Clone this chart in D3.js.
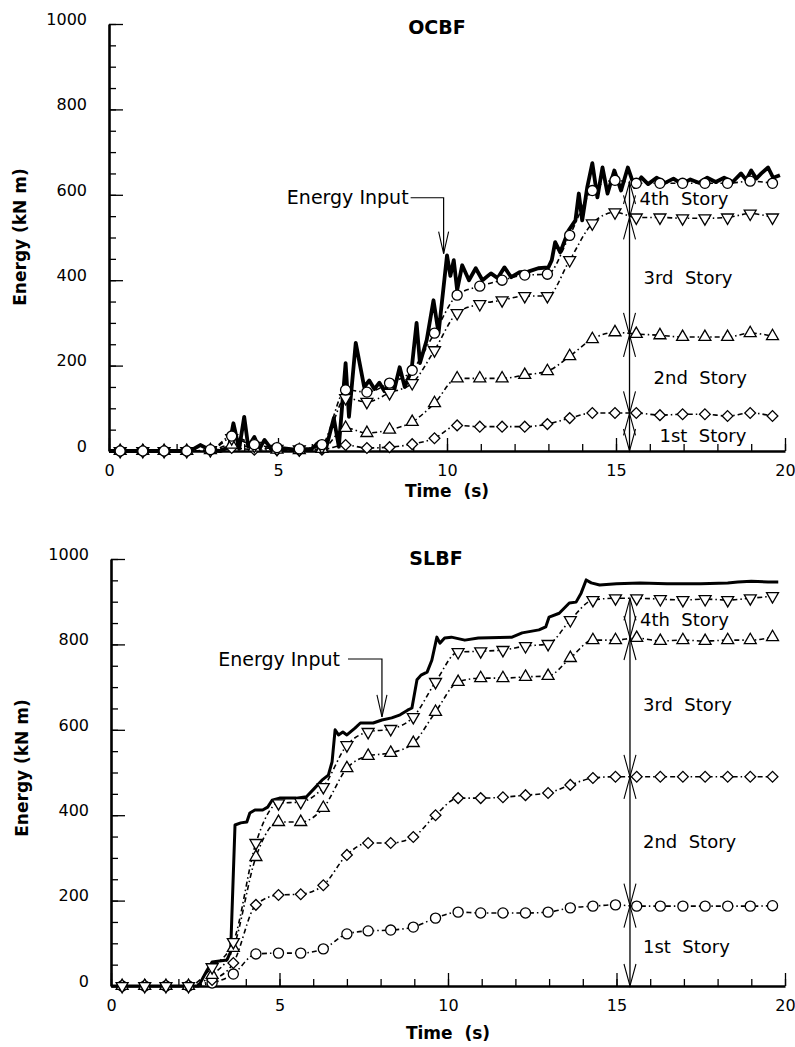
<!DOCTYPE html>
<html>
<head>
<meta charset="utf-8">
<script src="https://cdn.jsdelivr.net/npm/d3@7"></script>
<style>
  body { margin: 0; background: #fff; }
  svg { display: block; font-family: "DejaVu Sans", sans-serif; }
</style>
</head>
<body>
<div id="chart"></div>
<script>
// marker times (s), shared by both frames
const markerTimes = [0.33, 1.0, 1.63, 2.3, 3.0, 3.63, 4.3, 4.97, 5.63, 6.3, 7.0, 7.63, 8.3, 8.97, 9.63,
  10.3, 10.97, 11.63, 12.3, 12.97, 13.63, 14.3, 14.97, 15.6, 16.3, 16.97, 17.63, 18.3, 18.97, 19.63];

// OCBF - cumulative story energies (kN m)
const ocbf1st = [0, 0, 0, 0, 2, 7, 3, 2, 1, 3, 14, 7, 9, 16, 30, 60, 57, 57, 57, 63, 77, 89, 89, 89, 84, 86, 86, 82, 89, 82];
const ocbf2nd = [0, 0, 0, 0, 2, 15, 8, 3, 2, 5, 54, 42, 50, 68, 112, 170, 170, 170, 178, 187, 222, 262, 278, 274, 271, 267, 267, 267, 276, 269];
const ocbf3rd = [0, 0, 0, 0, 2, 30, 12, 5, 4, 10, 124, 115, 136, 159, 236, 323, 344, 353, 363, 363, 447, 533, 559, 547, 547, 545, 545, 547, 556, 547];
const ocbf4th = [0, 0, 0, 0, 3, 35, 15, 8, 5, 15, 143, 138, 159, 189, 276, 365, 386, 400, 412, 414, 505, 610, 634, 627, 627, 627, 627, 627, 632, 627];

// OCBF - energy input
const ocbfInputTime = [0, 2.4, 2.7, 3.0, 3.3, 3.55, 3.68, 3.85, 4.0, 4.12, 4.3, 4.45, 4.6, 4.8, 5.0, 5.5, 6.0, 6.2, 6.4,
  6.65, 6.8, 7.0, 7.1, 7.3, 7.55, 7.7, 7.85, 8.0, 8.15, 8.3, 8.45, 8.6, 8.75, 8.95, 9.1, 9.2, 9.4, 9.6, 9.75,
  10.0, 10.1, 10.2, 10.3, 10.45, 10.65, 10.85, 11.05, 11.3, 11.5, 11.7, 11.9, 12.15, 12.4, 12.7, 13.0, 13.1,
  13.2, 13.35, 13.6, 13.8, 13.9, 14.0, 14.15, 14.3, 14.45, 14.6, 14.75, 14.95, 15.15, 15.35, 15.55, 15.75,
  15.95, 16.2, 16.45, 16.7, 16.95, 17.2, 17.45, 17.7, 17.95, 18.2, 18.45, 18.7, 18.85, 19.0, 19.15, 19.3,
  19.5, 19.65, 19.85];
const ocbfInputEnergy = [0, 0, 14, 2, 0, 10, 65, 5, 80, 10, 33, 5, 26, 5, 8, 3, 5, 20, 0,
  77, 10, 206, 80, 253, 150, 165, 145, 160, 140, 161, 147, 196, 150, 189, 300, 206, 260, 353, 276,
  458, 410, 447, 377, 435, 400, 428, 400, 416, 405, 430, 407, 419, 420, 428, 430, 447,
  489, 465, 517, 540, 603, 540, 618, 674, 594, 664, 603, 657, 610, 664, 618, 641,
  625, 640, 628, 638, 625, 636, 628, 640, 630, 640, 630, 650, 635, 657, 638, 650,
  664, 640, 646];

// SLBF - cumulative story energies (kN m)
const slbf1st = [0, 0, 0, 0, 7, 28, 75, 77, 77, 87, 122, 129, 131, 138, 159, 173, 171, 171, 171, 173, 183, 187, 190, 187, 187, 187, 187, 187, 187, 188];
const slbf2nd = [0, 0, 0, 0, 14, 54, 190, 213, 215, 236, 307, 335, 335, 349, 400, 440, 440, 442, 447, 452, 471, 487, 490, 490, 490, 490, 490, 490, 490, 490];
const slbf3rd = [0, 0, 0, 0, 26, 89, 302, 384, 384, 417, 510, 539, 546, 569, 642, 712, 721, 721, 724, 726, 768, 810, 810, 815, 808, 810, 808, 810, 810, 817];
const slbf4th = [0, 0, 0, 0, 44, 103, 335, 428, 431, 466, 564, 595, 602, 630, 712, 782, 784, 787, 796, 801, 857, 904, 908, 908, 906, 904, 906, 904, 908, 913];

// SLBF - energy input
const slbfInputTime = [0, 2.6, 2.85, 3.0, 3.44, 3.55, 3.68, 3.85, 4.03, 4.12, 4.27, 4.5, 4.65, 4.78, 5.0, 5.5, 5.8,
  6.05, 6.26, 6.45, 6.56, 6.65, 6.75, 6.88, 7.0, 7.24, 7.4, 7.78, 8.04, 8.33, 8.58, 8.8, 8.93, 9.08, 9.2,
  9.38, 9.52, 9.67, 9.76, 9.9, 10.1, 10.5, 10.9, 11.9, 12.2, 12.7, 12.9, 13.0, 13.3, 13.6, 13.8, 13.95,
  14.1, 14.25, 14.5, 15.0, 15.7, 16.5, 17.5, 18.3, 18.6, 19.0, 19.5, 19.8];
const slbfInputEnergy = [0, 0, 37, 56, 61, 80, 377, 382, 384, 405, 412, 412, 419, 435, 440, 440, 443,
  464, 482, 494, 525, 600, 588, 595, 588, 604, 616, 616, 623, 628, 635, 646, 651, 717, 728,
  735, 763, 817, 803, 815, 817, 810, 815, 817, 827, 834, 841, 864, 873, 897, 899, 920,
  951, 944, 939, 942, 944, 942, 942, 944, 946, 948, 946, 946];

// story boundaries marked by the double arrows
const ocbfLevels = [0, 88, 272, 547, 630];
const slbfLevels = [0, 188, 490, 815, 908];
const storyNames = ['1st\u00a0 Story', '2nd\u00a0 Story', '3rd\u00a0 Story', '4th\u00a0 Story'];
const yTicks = [0, 200, 400, 600, 800, 1000];
const xTicks = [0, 5, 10, 15, 20];

const width = 795, height = 1047;

const svg = d3.select('#chart')
  .append('svg')
  .attr('width', width)
  .attr('height', height);

const panels = [
  {
    name: 'OCBF', left: 109, right: 785, top: 24, bottom: 451,
    titleX: 437, titleY: 34, yLabelX: 26, yLabelY: 237, xLabelY: 497,
    inputT: ocbfInputTime, inputE: ocbfInputEnergy, inputWidth: 3.8,
    stories: [
      { vals: ocbf1st, sym: 'diamond' },
      { vals: ocbf2nd, sym: 'up' },
      { vals: ocbf3rd, sym: 'down' },
      { vals: ocbf4th, sym: 'circle' }
    ],
    levels: ocbfLevels, arrowT: 15.4,
    labelPos: [{ dx: 30, v: 37 }, { dx: 24, v: 171 }, { dx: 14, v: 405 }, { dx: 10, v: 592 }],
    input: { tipT: 9.9, tipE: 462, rise: 56, run: 33, gap: 2 }
  },
  {
    name: 'SLBF', left: 111, right: 785, top: 559, bottom: 986,
    titleX: 436, titleY: 565, yLabelX: 28, yLabelY: 768, xLabelY: 1039,
    inputT: slbfInputTime, inputE: slbfInputEnergy, inputWidth: 3,
    stories: [
      { vals: slbf1st, sym: 'circle' },
      { vals: slbf2nd, sym: 'diamond' },
      { vals: slbf3rd, sym: 'up' },
      { vals: slbf4th, sym: 'down' }
    ],
    levels: slbfLevels, arrowT: 15.4,
    labelPos: [{ dx: 13, v: 91 }, { dx: 13, v: 337 }, { dx: 13, v: 658 }, { dx: 10, v: 857 }],
    input: { tipT: 8.04, tipE: 630, rise: 58, run: 34, gap: 8 }
  }
];

function symbolPath(sym) {
  if (sym === 'circle') return d3.symbol(d3.symbolCircle, 80)();
  if (sym === 'up' || sym === 'down') return d3.symbol(d3.symbolTriangle, 62)();
  return d3.symbol(d3.symbolSquare, 58)();
}
function symbolRotate(sym) {
  if (sym === 'down') return 180;
  if (sym === 'diamond') return 45;
  return 0;
}

// open V arrowhead, tip at (x,y), dir = +1 points down, -1 points up
function vHead(g, x, y, dir, len, half, w) {
  g.append('path')
    .attr('d', `M${x - half},${y - dir * len}L${x},${y}L${x + half},${y - dir * len}`)
    .attr('fill', 'none')
    .attr('stroke', '#000')
    .attr('stroke-width', w);
}

function drawPanel(p) {
  const x = d3.scaleLinear().domain([0, 20]).range([p.left, p.right]);
  const y = d3.scaleLinear().domain([0, 1000]).range([p.bottom, p.top]);
  const g = svg.append('g');

  // minor ticks
  g.append('g')
    .attr('transform', `translate(${p.left},0)`)
    .call(d3.axisLeft(y).tickValues(d3.range(0, 1001, 50)).tickSize(-7).tickSizeOuter(0).tickFormat(''))
    .call(a => a.select('.domain').remove());
  g.append('g')
    .attr('transform', `translate(0,${p.bottom})`)
    .call(d3.axisBottom(x).tickValues(d3.range(0, 21, 1)).tickSize(-7).tickSizeOuter(0).tickFormat(''))
    .call(a => a.select('.domain').remove());

  // major ticks and labels
  const yAx = g.append('g')
    .attr('transform', `translate(${p.left},0)`)
    .call(d3.axisLeft(y).tickValues(yTicks).tickSize(-14).tickSizeOuter(0).tickPadding(22).tickFormat(d3.format('d')));
  yAx.selectAll('text').attr('dy', '0.02em');
  g.append('g')
    .attr('transform', `translate(0,${p.bottom})`)
    .call(d3.axisBottom(x).tickValues(xTicks).tickSize(-13).tickSizeOuter(0).tickPadding(14).tickFormat(d3.format('d')));

  g.selectAll('.tick line').attr('stroke', '#000').attr('stroke-width', 1.3);
  g.selectAll('.domain').attr('stroke', '#000').attr('stroke-width', 2.6);
  g.selectAll('.tick text').attr('fill', '#000').attr('font-size', 16).attr('font-family', '"DejaVu Sans", sans-serif');

  // story lines
  const line = d3.line().x(d => x(d[0])).y(d => y(d[1])).curve(d3.curveMonotoneX);
  p.stories.forEach(s => {
    g.append('path')
      .attr('d', line(markerTimes.map((t, i) => [t, s.vals[i]])))
      .attr('fill', 'none')
      .attr('stroke', '#000')
      .attr('stroke-width', 1.6)
      .attr('stroke-dasharray', '5,3,1.5,3');
  });

  // energy input
  const inputLine = d3.line().x(d => x(d[0])).y(d => y(d[1]));
  g.append('path')
    .attr('d', inputLine(p.inputT.map((t, i) => [t, p.inputE[i]])))
    .attr('fill', 'none')
    .attr('stroke', '#000')
    .attr('stroke-width', p.inputWidth)
    .attr('stroke-linejoin', 'round');

  // markers
  p.stories.forEach(s => {
    g.append('g').selectAll('path')
      .data(markerTimes.map((t, i) => [t, s.vals[i]]))
      .join('path')
      .attr('d', symbolPath(s.sym))
      .attr('transform', d => `translate(${x(d[0])},${y(d[1])}) rotate(${symbolRotate(s.sym)})`)
      .attr('fill', '#fff')
      .attr('stroke', '#000')
      .attr('stroke-width', 1.3);
  });

  // story arrows
  const ax = x(p.arrowT);
  g.append('line')
    .attr('x1', ax).attr('x2', ax)
    .attr('y1', y(0)).attr('y2', y(p.levels[p.levels.length - 1]))
    .attr('stroke', '#000').attr('stroke-width', 1.3);
  for (let i = 0; i < p.levels.length - 1; i++) {
    vHead(g, ax, y(p.levels[i]), 1, 22, 6, 1.1);
    vHead(g, ax, y(p.levels[i + 1]), -1, 22, 6, 1.1);
  }
  p.labelPos.forEach((lp, i) => {
    g.append('text')
      .attr('x', ax + lp.dx)
      .attr('y', y(lp.v))
      .attr('dy', '0.35em')
      .attr('font-size', 18)
      .text(storyNames[i]);
  });

  // energy input callout
  const tx = x(p.input.tipT), ty = y(p.input.tipE);
  const ey = ty - p.input.rise;
  g.append('path')
    .attr('d', `M${tx - p.input.run},${ey}H${tx}V${ty}`)
    .attr('fill', 'none').attr('stroke', '#000').attr('stroke-width', 1.2);
  vHead(g, tx, ty, 1, 22, 5, 1.1);
  g.append('text')
    .attr('x', tx - p.input.run - p.input.gap)
    .attr('y', ey)
    .attr('dy', '0.35em')
    .attr('text-anchor', 'end')
    .attr('font-size', 19)
    .text('Energy Input');

  // titles
  g.append('text')
    .attr('x', p.titleX).attr('y', p.titleY)
    .attr('text-anchor', 'middle')
    .attr('font-weight', 'bold').attr('font-size', 19)
    .text(p.name);
  g.append('text')
    .attr('transform', `translate(${p.yLabelX},${p.yLabelY}) rotate(-90)`)
    .attr('text-anchor', 'middle')
    .attr('font-weight', 'bold').attr('font-size', 17)
    .text('Energy (kN m)');
  g.append('text')
    .attr('x', (p.left + p.right) / 2).attr('y', p.xLabelY)
    .attr('text-anchor', 'middle')
    .attr('font-weight', 'bold').attr('font-size', 17)
    .text('Time\u00a0 (s)');
}

panels.forEach(drawPanel);
</script>
</body>
</html>
